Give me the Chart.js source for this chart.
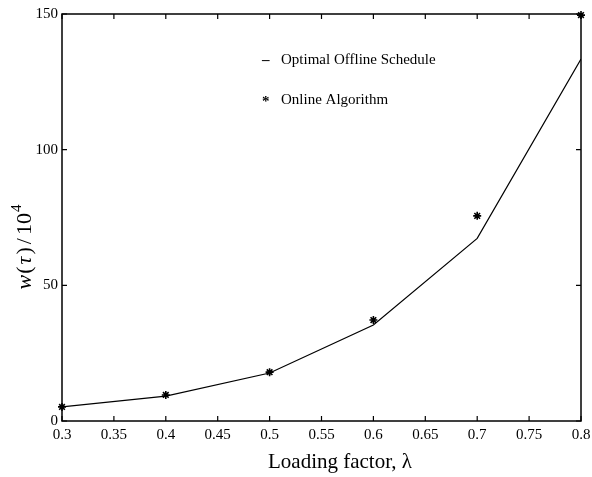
<!DOCTYPE html>
<html>
<head>
<meta charset="utf-8">
<script src="https://cdn.jsdelivr.net/npm/chart.js@4"></script>
<style>
  html, body { margin: 0; padding: 0; background: #fff; }
  #wrap { width: 592px; height: 477px; }
</style>
</head>
<body>
<div id="wrap"><canvas id="chart" width="592" height="477"></canvas></div>
<script>
// loading factor values
const lambdas = [0.3, 0.4, 0.5, 0.6, 0.7, 0.8];
// optimal offline schedule (line), w(tau)/10^4
const offline = [5.2, 9.2, 17.7, 35.4, 67.3, 133.4];
// online algorithm (stars)
const online = [5.2, 9.6, 18.0, 37.2, 75.6, 149.6];

const xTicks = [0.3, 0.35, 0.4, 0.45, 0.5, 0.55, 0.6, 0.65, 0.7, 0.75, 0.8];
const yTicks = [0, 50, 100, 150];

const serif = "'Liberation Serif', 'DejaVu Serif', serif";

// box + inward ticks like matlab, plus legend and axis titles
const boxPlugin = {
  id: "box",
  afterDraw(chart) {
    const ctx = chart.ctx;
    const a = chart.chartArea;
    const xs = chart.scales.x, ys = chart.scales.y;
    ctx.save();
    ctx.strokeStyle = "#000";
    ctx.lineWidth = 1.5;
    ctx.strokeRect(a.left, a.top, a.right - a.left, a.bottom - a.top);
    ctx.lineWidth = 1.2;
    ctx.beginPath();
    xTicks.forEach(function (t) {
      const px = xs.getPixelForValue(t);
      ctx.moveTo(px, a.bottom); ctx.lineTo(px, a.bottom - 5);
      ctx.moveTo(px, a.top); ctx.lineTo(px, a.top + 5);
    });
    yTicks.forEach(function (t) {
      const py = ys.getPixelForValue(t);
      ctx.moveTo(a.left, py); ctx.lineTo(a.left + 5, py);
      ctx.moveTo(a.right, py); ctx.lineTo(a.right - 5, py);
    });
    ctx.stroke();

    // legend inside the plot
    ctx.fillStyle = "#000";
    ctx.textBaseline = "middle";
    ctx.font = "bold 15px " + serif;
    ctx.fillText("\u2013", 262, 60);
    ctx.fillText("*", 262, 102);
    ctx.font = "15px " + serif;
    ctx.fillText("Optimal Offline Schedule", 281, 60);
    ctx.fillText("Online Algorithm", 281, 100);

    // x title
    ctx.font = "21px " + serif;
    ctx.textAlign = "center";
    ctx.fillText("Loading factor, \u03bb", 340, 462);
    ctx.textAlign = "left";

    // y title with italic symbols
    ctx.translate(24, 247);
    ctx.rotate(-Math.PI / 2);
    ctx.textBaseline = "alphabetic";
    const parts = [
      ["italic 22px " + serif, "w", 1],
      ["22px " + serif, "(", 2],
      ["italic 22px " + serif, "\u03c4", 2],
      ["22px " + serif, ")", 3],
      ["22px " + serif, "/", 3],
      ["22px " + serif, "10", 1]
    ];
    let total = 0;
    parts.forEach(function (p) { ctx.font = p[0]; total += ctx.measureText(p[1]).width + p[2]; });
    ctx.font = "15px " + serif;
    total += ctx.measureText("4").width;
    let x = -total / 2;
    parts.forEach(function (p) {
      ctx.font = p[0];
      ctx.fillText(p[1], x, 7);
      x += ctx.measureText(p[1]).width + p[2];
    });
    ctx.font = "15px " + serif;
    ctx.fillText("4", x, -3);
    ctx.restore();
  }
};

new Chart(document.getElementById("chart").getContext("2d"), {
  type: "line",
  data: {
    datasets: [
      {
        label: "Optimal Offline Schedule",
        data: lambdas.map((l, i) => ({ x: l, y: offline[i] })),
        borderColor: "#000",
        borderWidth: 1.2,
        pointRadius: 0,
        fill: false,
        tension: 0,
      },
      {
        type: "scatter",
        label: "Online Algorithm",
        data: lambdas.map((l, i) => ({ x: l, y: online[i] })),
        borderColor: "#000",
        backgroundColor: "#000",
        pointStyle: "star",
        pointRadius: 4,
        borderWidth: 1.6,
        showLine: false,
        clip: false,
      },
    ],
  },
  options: {
    responsive: false,
    animation: false,
    events: [],
    layout: { padding: { top: 14, right: 11, left: 0, bottom: 0 } },
    plugins: { legend: { display: false }, tooltip: { enabled: false } },
    scales: {
      x: {
        type: "linear",
        min: 0.3,
        max: 0.8,
        afterBuildTicks: (s) => { s.ticks = xTicks.map((v) => ({ value: v })); },
        afterFit: (s) => { s.height = 56; s.paddingRight = 0; s.paddingLeft = 0; },
        grid: { display: false, drawTicks: false },
        border: { display: false },
        ticks: {
          color: "#000",
          padding: 5,
          maxRotation: 0,
          autoSkip: false,
          font: { family: serif, size: 15 },
          callback: (v) => String(parseFloat(v.toFixed(2))),
        },
      },
      y: {
        min: 0,
        max: 150,
        afterBuildTicks: (s) => { s.ticks = yTicks.map((v) => ({ value: v })); },
        afterFit: (s) => { s.width = 62; s.paddingTop = 0; s.paddingBottom = 0; },
        grid: { display: false, drawTicks: false },
        border: { display: false },
        ticks: {
          color: "#000",
          padding: 4,
          font: { family: serif, size: 15 },
        },
      },
    },
  },
  plugins: [boxPlugin],
});
</script>
</body>
</html>
